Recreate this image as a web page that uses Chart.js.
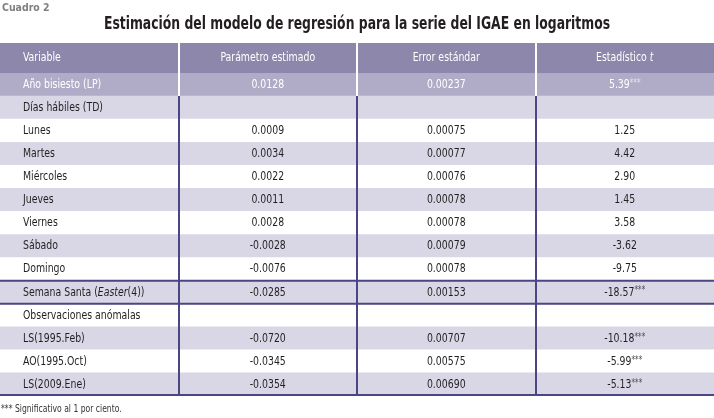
<!DOCTYPE html>
<html>
<head>
<meta charset="utf-8">
<script src="https://cdn.jsdelivr.net/npm/chart.js@4"></script>
<style>
  html, body { margin: 0; padding: 0; background: #ffffff; }
  canvas { display: block; }
</style>
</head>
<body>
<canvas id="tabla" width="714" height="418"></canvas>
<script>
// Table contents
const cuadro = 'Cuadro 2';
const titulo = 'Estimación del modelo de regresión para la serie del IGAE en logaritmos';
const columnas = ['Variable', 'Parámetro estimado', 'Error estándar', 'Estadístico _t_'];
const variables = [
    'Año bisiesto (LP)', 'Días hábiles (TD)', 'Lunes', 'Martes', 'Miércoles', 'Jueves',
    'Viernes', 'Sábado', 'Domingo', 'Semana Santa (_Easter_(4))', 'Observaciones anómalas',
    'LS(1995.Feb)', 'AO(1995.Oct)', 'LS(2009.Ene)'
];
const parametro = [0.0128, null, 0.0009, 0.0034, 0.0022, 0.0011, 0.0028, -0.0028, -0.0076, -0.0285, null, -0.0720, -0.0345, -0.0354];
const errorEstandar = [0.00237, null, 0.00075, 0.00077, 0.00076, 0.00078, 0.00078, 0.00079, 0.00078, 0.00153, null, 0.00707, 0.00575, 0.00690];
const estadisticoT = [5.39, null, 1.25, 4.42, 2.90, 1.45, 3.58, -3.62, -9.75, -18.57, null, -10.18, -5.99, -5.13];
const significativo = [true, false, false, false, false, false, false, false, false, true, false, true, true, true];
const nota = '*** Significativo al 1 por ciento.';

// no condensed Myriad here, so squeeze a condensed sans horizontally
const FONT = '"DejaVu Sans Condensed", "DejaVu Sans", sans-serif';
const SQUEEZE = 0.8;
const HEADER_H = 30;
const colorHeader = '#8d88ab';
const colorLP = '#b0acc8';
const colorLila = '#d9d7e6';
const colorLinea = '#4a4583';
const colorTexto = '#231f20';

const fmt = (v, d) => (v === null ? '' : v.toFixed(d));

// draws text with _italic_ parts and small raised trailing ***
function drawRich(ctx, text, x, y, align, size, color, opts = {}) {
    const sx = opts.squeeze || SQUEEZE;
    const weight = opts.bold ? 'bold ' : '';
    let stars = '';
    if (text.endsWith('***')) {
        stars = '***';
        text = text.slice(0, -3);
    }
    const parts = text.split('_').map((t, i) => ({ t, italic: i % 2 === 1 }));
    const fontFor = (p) => `${p.italic ? 'italic ' : ''}${weight}${size}px ${FONT}`;
    let total = 0;
    parts.forEach(p => { ctx.font = fontFor(p); p.w = ctx.measureText(p.t).width; total += p.w; });
    const starSize = Math.round(size * 0.8);
    ctx.font = `${starSize}px ${FONT}`;
    const starW = stars ? ctx.measureText(stars).width : 0;
    total += starW;
    let start = x;
    if (align === 'center') start = x - total * sx / 2;
    ctx.save();
    ctx.translate(start, y);
    ctx.scale(sx, 1);
    ctx.textAlign = 'left';
    ctx.textBaseline = 'middle';
    ctx.fillStyle = color;
    let cx = 0;
    parts.forEach(p => { ctx.font = fontFor(p); ctx.fillText(p.t, cx, 0); cx += p.w; });
    if (stars) {
        ctx.font = `${starSize}px ${FONT}`;
        ctx.fillStyle = color === '#ffffff' ? '#e6e4ef' : '#4d4d4d';
        ctx.fillText(stars, cx, -size * 0.1);
    }
    ctx.restore();
}

function rowColor(i) {
    if (i === 0) return colorLP;
    return i % 2 === 1 ? colorLila : '#ffffff';
}

const tablePlugin = {
    id: 'tablePlugin',
    beforeDatasetsDraw(chart) {
        const { ctx, chartArea, scales: { x } } = chart;
        ctx.save();
        ctx.fillStyle = colorHeader;
        ctx.fillRect(x.getPixelForValue(0), chartArea.top - HEADER_H, x.getPixelForValue(4) - x.getPixelForValue(0), HEADER_H);
        ctx.restore();
    },
    afterDatasetsDraw(chart) {
        const { ctx, chartArea, scales: { x, y } } = chart;
        const rowH = y.getPixelForValue(1) - y.getPixelForValue(0);
        const rowTop = (i) => y.getPixelForValue(i) - rowH / 2;
        const left = x.getPixelForValue(0), right = x.getPixelForValue(4);
        ctx.save();

        // titles
        drawRich(ctx, cuadro, 2, 8, 'left', 11, '#7f7f7f', { bold: true, squeeze: 0.95 });
        drawRich(ctx, titulo, (left + right) / 2, 25, 'center', 17, colorTexto, { bold: true, squeeze: 0.81 });

        // column dividers: white over header and LP row, dark below
        for (let c = 1; c < 4; c++) {
            const px = Math.round(x.getPixelForValue(c));
            ctx.strokeStyle = '#ffffff';
            ctx.lineWidth = 2;
            ctx.beginPath();
            ctx.moveTo(px, chartArea.top - HEADER_H);
            ctx.lineTo(px, rowTop(1));
            ctx.stroke();
            ctx.strokeStyle = colorLinea;
            ctx.lineWidth = 2;
            ctx.beginPath();
            ctx.moveTo(px, rowTop(1));
            ctx.lineTo(px, chartArea.bottom);
            ctx.stroke();
        }

        // horizontal rules around Semana Santa and at the bottom
        const idxSS = 9;
        [rowTop(idxSS), rowTop(idxSS + 1), chartArea.bottom - 1].forEach(py => {
            ctx.strokeStyle = colorLinea;
            ctx.lineWidth = 2;
            ctx.beginPath();
            ctx.moveTo(left, py);
            ctx.lineTo(right, py);
            ctx.stroke();
        });

        // header text
        const hy = chartArea.top - HEADER_H / 2;
        columnas.forEach((txt, c) => {
            if (c === 0) drawRich(ctx, txt, left + 23, hy, 'left', 13, '#ffffff');
            else drawRich(ctx, txt, x.getPixelForValue(c + 0.5), hy, 'center', 13, '#ffffff');
        });

        // body text
        variables.forEach((v, i) => {
            const py = y.getPixelForValue(i);
            const col = i === 0 ? '#ffffff' : colorTexto;
            const stars = significativo[i] ? '***' : '';
            drawRich(ctx, v, left + 23, py, 'left', 13, col);
            drawRich(ctx, fmt(parametro[i], 4), x.getPixelForValue(1.5), py, 'center', 13, col);
            drawRich(ctx, fmt(errorEstandar[i], 5), x.getPixelForValue(2.5), py, 'center', 13, col);
            if (estadisticoT[i] !== null) {
                drawRich(ctx, fmt(estadisticoT[i], 2) + stars, x.getPixelForValue(3.5), py, 'center', 13, col);
            }
        });

        // footnote
        drawRich(ctx, nota, 1, chartArea.bottom + 13, 'left', 10, '#333333', { squeeze: 0.85 });
        ctx.restore();
    }
};

const ctx = document.getElementById('tabla').getContext('2d');
new Chart(ctx, {
    type: 'bar',
    data: {
        labels: variables,
        datasets: [{
            data: variables.map(() => [0, 4]),
            backgroundColor: variables.map((v, i) => rowColor(i)),
            borderWidth: 0,
            barPercentage: 1,
            categoryPercentage: 1,
        }],
    },
    options: {
        indexAxis: 'y',
        responsive: false,
        animation: false,
        devicePixelRatio: 1,
        layout: { padding: { left: 0, right: 0, top: 73, bottom: 22 } },
        scales: {
            x: { type: 'linear', min: 0, max: 4, display: false },
            y: { type: 'category', display: false },
        },
        plugins: {
            legend: { display: false },
            tooltip: { enabled: false },
            title: { display: false },
        },
    },
    plugins: [tablePlugin],
});
</script>
</body>
</html>
